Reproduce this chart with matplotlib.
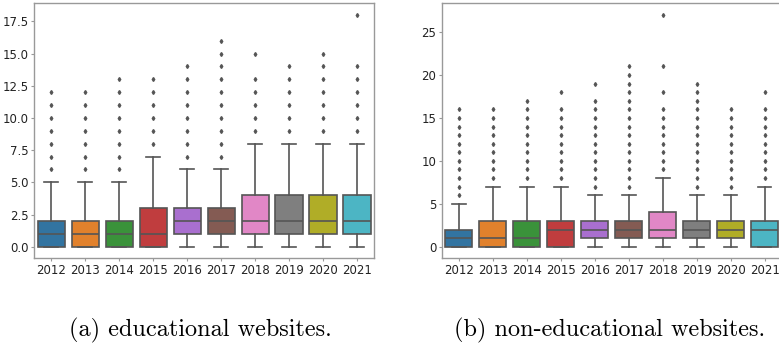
import matplotlib
matplotlib.use("Agg")
import matplotlib.pyplot as plt

years = ['2012', '2013', '2014', '2015', '2016', '2017', '2018', '2019', '2020', '2021']

# --- educational websites ---
edu_q1 = [0, 0, 0, 0, 1, 1, 1, 1, 1, 1]
edu_med = [1, 1, 1, 1, 2, 2, 2, 2, 2, 2]
edu_q3 = [2, 2, 2, 3, 3, 3, 4, 4, 4, 4]
edu_lo = [0, 0, 0, 0, 0, 0, 0, 0, 0, 0]
edu_hi = [5, 5, 5, 7, 6, 6, 8, 8, 8, 8]
edu_fliers = [
    [6, 7, 8, 9, 10, 11, 12],
    [6, 7, 8, 9, 10, 11, 12],
    [6, 7, 8, 9, 10, 11, 12, 13],
    [8, 9, 10, 11, 12, 13],
    [7, 8, 9, 10, 11, 12, 13, 14],
    [7, 8, 9, 10, 11, 12, 13, 14, 15, 16],
    [9, 10, 11, 12, 13, 15],
    [9, 10, 11, 12, 13, 14],
    [9, 10, 11, 12, 13, 14, 15],
    [9, 10, 11, 12, 13, 14, 18],
]

# --- non-educational websites ---
non_q1 = [0, 0, 0, 0, 1, 1, 1, 1, 1, 0]
non_med = [1, 1, 1, 2, 2, 2, 2, 2, 2, 2]
non_q3 = [2, 3, 3, 3, 3, 3, 4, 3, 3, 3]
non_lo = [0, 0, 0, 0, 0, 0, 0, 0, 0, 0]
non_hi = [5, 7, 7, 7, 6, 6, 8, 6, 6, 7]
non_fliers = [
    [6, 7, 8, 9, 10, 11, 12, 13, 14, 15, 16],
    [8, 9, 10, 11, 12, 13, 14, 15, 16],
    [8, 9, 10, 11, 12, 13, 14, 15, 16, 17],
    [8, 9, 10, 11, 12, 13, 14, 15, 16, 18],
    [7, 8, 9, 10, 11, 12, 13, 14, 15, 16, 17, 19],
    [7, 8, 9, 10, 11, 12, 13, 14, 15, 16, 17, 18, 19, 20, 21],
    [9, 10, 11, 12, 13, 14, 15, 16, 18, 21, 27],
    [7, 8, 9, 10, 11, 12, 13, 14, 15, 16, 17, 18, 19],
    [7, 8, 9, 10, 11, 12, 13, 14, 15, 16],
    [8, 9, 10, 11, 12, 13, 14, 15, 16, 18],
]

palette = ['#3274a1', '#e1812c', '#3a923a', '#c03d3e', '#a96fcf',
           '#845b53', '#e187c6', '#7f7f7f', '#b0ad27', '#4cb5c4']

line_col = '#555555'
spine_col = '#999999'


def make_stats(q1, med, q3, lo, hi, fliers):
    stats = []
    for i in range(len(years)):
        stats.append(dict(q1=q1[i], med=med[i], q3=q3[i],
                          whislo=lo[i], whishi=hi[i], fliers=fliers[i]))
    return stats


def draw_panel(ax, stats):
    bp = ax.bxp(stats, positions=range(len(years)), widths=0.8,
                patch_artist=True, showfliers=True,
                boxprops=dict(edgecolor=line_col, linewidth=1.2),
                medianprops=dict(color=line_col, linewidth=1.2),
                whiskerprops=dict(color=line_col, linewidth=1.2),
                capprops=dict(color=line_col, linewidth=1.2),
                flierprops=dict(marker='d', markersize=2,
                                markerfacecolor=line_col,
                                markeredgecolor=line_col, linestyle='none'))
    for patch, c in zip(bp['boxes'], palette):
        patch.set_facecolor(c)
    ax.set_xticks(range(len(years)))
    ax.set_xticklabels(years)
    ax.set_xlim(-0.5, len(years) - 0.5)
    for s in ax.spines.values():
        s.set_color(spine_col)
        s.set_linewidth(1.0)
    ax.tick_params(axis='both', labelsize=8.5, length=2.5, pad=1.5,
                   color=spine_col, labelcolor='#222222')


fig = plt.figure(figsize=(7.79, 3.47), dpi=100)

ax1 = fig.add_axes([34.3 / 779, 88.7 / 347, 339.7 / 779, 255.0 / 347])
draw_panel(ax1, make_stats(edu_q1, edu_med, edu_q3, edu_lo, edu_hi, edu_fliers))
ax1.set_ylim(-0.9, 18.9)
ax1.set_yticks([0, 2.5, 5, 7.5, 10, 12.5, 15, 17.5])
ax1.set_yticklabels(['0.0', '2.5', '5.0', '7.5', '10.0', '12.5', '15.0', '17.5'])

ax2 = fig.add_axes([441.7 / 779, 88.7 / 347, 340.0 / 779, 255.0 / 347])
draw_panel(ax2, make_stats(non_q1, non_med, non_q3, non_lo, non_hi, non_fliers))
ax2.set_ylim(-1.35, 28.35)
ax2.set_yticks([0, 5, 10, 15, 20, 25])

cap_font = ['cmr10', 'DejaVu Serif']
fig.text(200 / 779, 11 / 347, '(a) educational websites.', ha='center',
         va='baseline', fontsize=17.5, family=cap_font)
fig.text(610 / 779, 11 / 347, '(b) non-educational websites.', ha='center',
         va='baseline', fontsize=17.5, family=cap_font)

fig.savefig('out.png', dpi=100)
